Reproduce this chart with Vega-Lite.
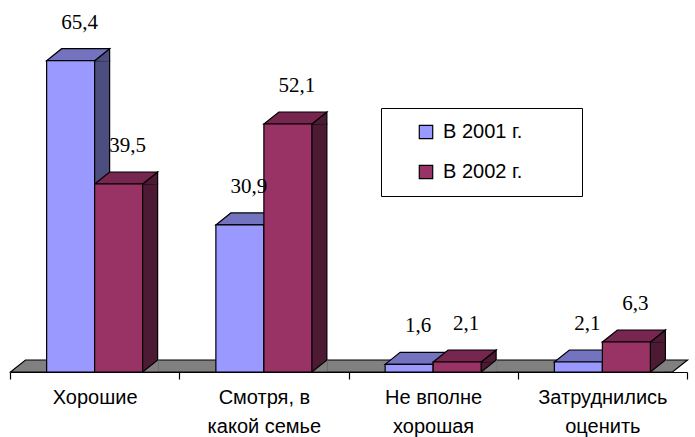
{
  "$schema": "https://vega.github.io/schema/vega-lite/v6.json",
  "width": 677,
  "height": 352,
  "autosize": {"type": "none"},
  "padding": {"left": 10, "top": 20, "right": 8, "bottom": 65},
  "background": "white",
  "config": {
    "view": {"stroke": null},
    "locale": {"number": {"decimal": ",", "thousands": " ", "grouping": [3], "currency": ["", ""]}}
  },
  "data": {
    "values": [
      {"cat": "Хорошие", "year": "В 2001 г.", "value": 65.4},
      {"cat": "Хорошие", "year": "В 2002 г.", "value": 39.5},
      {"cat": "Смотря, в какой семье", "year": "В 2001 г.", "value": 30.9},
      {"cat": "Смотря, в какой семье", "year": "В 2002 г.", "value": 52.1},
      {"cat": "Не вполне хорошая", "year": "В 2001 г.", "value": 1.6},
      {"cat": "Не вполне хорошая", "year": "В 2002 г.", "value": 2.1},
      {"cat": "Затруднились оценить", "year": "В 2001 г.", "value": 2.1},
      {"cat": "Затруднились оценить", "year": "В 2002 г.", "value": 6.3}
    ]
  },
  "encoding": {
    "x": {
      "field": "cat", "type": "nominal", "sort": null,
      "scale": {"type": "band", "paddingInner": 0, "paddingOuter": 0},
      "axis": {
        "title": null, "labelAngle": 0, "tickBand": "extent",
        "domainColor": "black", "domainWidth": 1.2, "tickColor": "black", "tickWidth": 1.2, "tickSize": 7,
        "labelFont": "Liberation Sans", "labelFontSize": 20, "labelColor": "black",
        "labelPadding": 8, "labelLineHeight": 29, "labelBaseline": "top", "labelLimit": 200,
        "labelExpr": "datum.value == 'Смотря, в какой семье' ? ['Смотря, в', 'какой семье'] : datum.value == 'Не вполне хорошая' ? ['Не вполне', 'хорошая'] : datum.value == 'Затруднились оценить' ? ['Затруднились', 'оценить'] : datum.value"
      }
    },
    "xOffset": {"field": "year", "type": "nominal", "scale": {"type": "band", "paddingInner": 0, "paddingOuter": 0.763}},
    "y": {"field": "value", "type": "quantitative", "scale": {"domain": [0, 73.95], "nice": false}, "axis": null}
  },
  "resolve": {"scale": {"xOffset": "independent"}},
  "layer": [
    {
      "data": {"values": [{"floor": 0}]},
      "mark": {"type": "point", "shape": "M -338 0 L -323 -12 L 339 -12 L 324 0 Z", "size": 4, "filled": true, "fill": "#808080", "stroke": "black", "strokeWidth": 1.2, "opacity": 1},
      "encoding": {"x": null, "xOffset": null, "y": {"field": "floor", "type": "quantitative"}}
    },
    {
      "mark": {"type": "bar", "width": 48, "stroke": "black", "strokeWidth": 1.2},
      "encoding": {
        "xOffset": {"field": "year", "type": "nominal", "scale": {"type": "band", "paddingInner": 0, "paddingOuter": 0.763, "range": [15, 184.25]}},
        "y2": {"datum": 0},
        "fill": {"condition": {"test": "datum.year === 'В 2001 г.'", "value": "#4D4D80"}, "value": "#4D1A33"}
      }
    },
    {
      "mark": {"type": "point", "shape": "M 24 0 L 39 -12 L 39 0.6", "size": 4, "filled": true, "stroke": "black", "strokeWidth": 1.2, "opacity": 1},
      "encoding": {
        "fill": {"condition": {"test": "datum.year === 'В 2001 г.'", "value": "#4D4D80"}, "value": "#4D1A33"}
      }
    },
    {
      "mark": {"type": "point", "shape": "M 24 -0.6 L 39 -12 L 39.8 -12 L 39.8 -0.6 Z", "size": 4, "filled": true, "fill": "#808080", "strokeWidth": 0, "opacity": 1},
      "encoding": {"y": {"datum": 0}}
    },
    {
      "mark": {"type": "point", "shape": "M 24 0 L 39 -12", "size": 4, "filled": false, "stroke": "black", "strokeWidth": 1.2, "opacity": 1},
      "encoding": {"y": {"datum": 0}}
    },
    {
      "mark": {"type": "point", "shape": "M -24 0 L -9 -12 L 39 -12 L 24 0 Z", "size": 4, "filled": true, "stroke": "black", "strokeWidth": 1.2, "opacity": 1},
      "encoding": {
        "fill": {"condition": {"test": "datum.year === 'В 2001 г.'", "value": "#7373C0"}, "value": "#76264F"}
      }
    },
    {
      "mark": {"type": "bar", "width": 48, "stroke": "black", "strokeWidth": 1.2},
      "encoding": {
        "y2": {"datum": 0},
        "color": {
          "field": "year", "type": "nominal",
          "scale": {"domain": ["В 2001 г.", "В 2002 г."], "range": ["#9999FF", "#993366"]},
          "legend": {
            "title": null, "orient": "none", "legendX": 371, "legendY": 88,
            "symbolType": "square", "symbolSize": 180, "symbolStrokeColor": "black", "symbolStrokeWidth": 1.2,
            "labelFont": "Liberation Sans", "labelFontSize": 20, "labelColor": "black", "labelOffset": 7,
            "labelExpr": "datum.label + '\u2800\u2800\u2800'",
            "rowPadding": 20, "padding": 14, "symbolOffset": 21,
            "strokeColor": "black", "fillColor": "white"
          }
        }
      }
    },
    {
      "mark": {"type": "text", "dx": 9, "dy": -32, "baseline": "alphabetic", "align": "center", "font": "Liberation Serif", "fontSize": 21, "color": "black"},
      "encoding": {"text": {"field": "value", "type": "quantitative", "format": ".1f"}}
    }
  ]
}
